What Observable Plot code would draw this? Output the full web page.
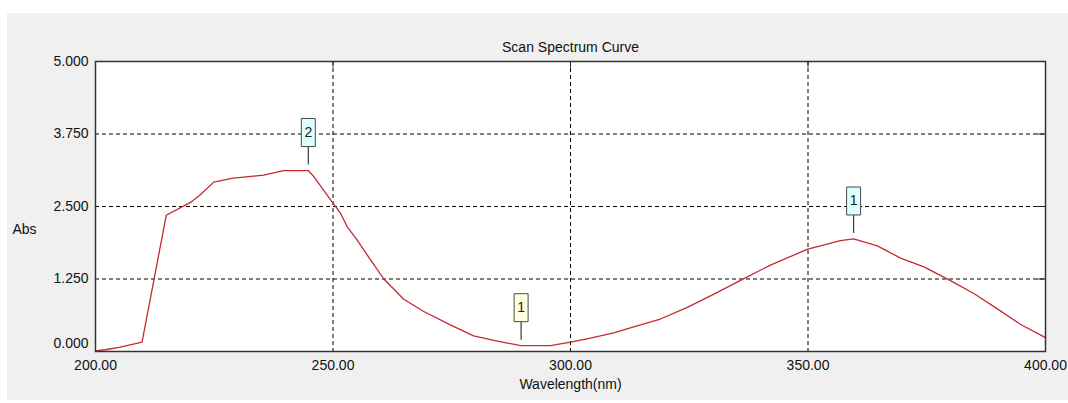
<!DOCTYPE html>
<html>
<head>
<meta charset="utf-8">
<script src="https://cdn.jsdelivr.net/npm/d3@7"></script>
<script src="https://cdn.jsdelivr.net/npm/@observablehq/plot@0.6"></script>
<style>
  html, body { margin: 0; padding: 0; background: white; }
  #wrap { position: relative; width: 1068px; height: 403px; background: white; overflow: hidden; }
  #panel { position: absolute; left: 7px; top: 13px; right: 0; bottom: 3px; background: #f0f0f0; }
  #chart { position: absolute; left: 0; top: 0; }
</style>
</head>
<body>
<div id="wrap"><div id="panel"></div><div id="chart"></div></div>
<script>
// Spectrum data
const wavelength = [200, 202, 205, 209.8, 214.9, 218.6, 220, 222, 224.9, 229, 235.4, 239.6, 244.8, 246, 249.8, 251.6, 253, 255.1, 257.9, 260.7, 264.9, 269.1, 274.7, 279.6, 284.6, 289.5, 295.8, 300, 304.2, 309.1, 314, 318.9, 324.6, 330.2, 336.1, 342.1, 349.8, 352.6, 356.8, 359.6, 364.6, 369.5, 374.4, 379.6, 384.9, 389.8, 394.7, 400];
const absorbance = [0.01, 0.03, 0.07, 0.16, 2.35, 2.51, 2.57, 2.70, 2.92, 2.99, 3.04, 3.12, 3.12, 3.01, 2.58, 2.38, 2.15, 1.92, 1.58, 1.25, 0.90, 0.69, 0.46, 0.27, 0.18, 0.10, 0.10, 0.16, 0.23, 0.32, 0.44, 0.56, 0.76, 0.99, 1.24, 1.49, 1.76, 1.82, 1.91, 1.94, 1.82, 1.61, 1.46, 1.24, 1.00, 0.74, 0.47, 0.24];

// Peak / valley markers
const markerWavelength = [244.8, 289.6, 359.6];
const markerAbs = [3.12, 0.10, 1.94];
const markerLabel = ["2", "1", "1"];
const markerKind = ["peak", "valley", "peak"];

// Axis ticks
const xTicks = [200, 250, 300, 350, 400];
const xTickLabels = ["200.00", "250.00", "300.00", "350.00", "400.00"];
const yTicks = [0, 1.25, 2.5, 3.75, 5];
const yTickLabels = ["0.000", "1.250", "2.500", "3.750", "5.000"];
const xGrid = [250, 300, 350];
const yGrid = [1.25, 2.5, 3.75];

const titleText = "Scan Spectrum Curve";
const xLabel = "Wavelength(nm)";
const yLabel = "Abs";

const curve = wavelength.map((w, i) => ({w, a: absorbance[i]}));
const markers = markerWavelength.map((w, i) => ({w, a: markerAbs[i], label: markerLabel[i], kind: markerKind[i]}));
const xt = xTicks.map((v, i) => ({v, t: xTickLabels[i]}));
const yt = yTicks.map((v, i) => ({v, t: yTickLabels[i]}));

const stemSymbol = {draw(ctx) { ctx.moveTo(0, -9); ctx.lineTo(0, 9); }};
const boxSymbol = {draw(ctx) { ctx.rect(-7, -14, 14, 28); }};
const hTick = {draw(ctx) { ctx.moveTo(-9, 0); ctx.lineTo(0, 0); }};
const vTick = {draw(ctx) { ctx.moveTo(0, 0); ctx.lineTo(0, 6); }};

const font = "'Liberation Sans', Arial, sans-serif";

const chart = Plot.plot({
  width: 1068,
  height: 403,
  marginLeft: 95,
  marginRight: 23,
  marginTop: 61,
  marginBottom: 52,
  style: {background: "transparent", fontFamily: font, fontSize: "14px", color: "black"},
  x: {domain: [200, 400], axis: null},
  y: {domain: [0, 5], axis: null},
  marks: [
    Plot.frame({fill: "white", stroke: null}),
    Plot.ruleX(xGrid, {stroke: "black", strokeDasharray: "4,3", strokeWidth: 1}),
    Plot.ruleY(yGrid, {stroke: "black", strokeDasharray: "4,3", strokeWidth: 1}),
    Plot.dot(yGrid, {y: d => d, frameAnchor: "right", symbol: hTick, stroke: "#222", fill: "none", strokeWidth: 1}),
    Plot.dot(xGrid, {x: d => d, frameAnchor: "top", symbol: vTick, stroke: "#222", fill: "none", strokeWidth: 1}),
    Plot.line(curve, {x: "w", y: "a", stroke: "#c42a30", strokeWidth: 1.3}),
    Plot.dot(markers, {x: "w", y: "a", symbol: stemSymbol, dy: -15, stroke: "#3a3a3a", fill: "none", strokeWidth: 1.2}),
    Plot.dot(markers.filter(d => d.kind === "peak"), {x: "w", y: "a", symbol: boxSymbol, dy: -38, stroke: "#4a4a4a", fill: "#dcffff", strokeWidth: 1}),
    Plot.dot(markers.filter(d => d.kind === "valley"), {x: "w", y: "a", symbol: boxSymbol, dy: -38, stroke: "#4a4a4a", fill: "#ffffe2", strokeWidth: 1}),
    Plot.text(markers, {x: "w", y: "a", text: "label", dy: -38, fontSize: 14, fill: "#222"}),
    Plot.frame({stroke: "#333", strokeWidth: 1.5}),
    Plot.text(yt.filter(d => d.v !== 0), {y: "v", text: "t", frameAnchor: "left", dx: -7, textAnchor: "end", fill: "#111"}),
    Plot.text(yt.filter(d => d.v === 0), {y: "v", text: "t", frameAnchor: "left", dx: -7, dy: -8, textAnchor: "end", fill: "#111"}),
    Plot.text(xt, {x: "v", text: "t", frameAnchor: "bottom", dy: 18, fill: "#111"}),
    Plot.text([titleText], {frameAnchor: "top", dy: -19, fill: "#111"}),
    Plot.text([xLabel], {frameAnchor: "bottom", dy: 37, fill: "#111"}),
    Plot.text([yLabel], {frameAnchor: "left", dx: -83, dy: 23, textAnchor: "start", fill: "#111"})
  ]
});
document.getElementById("chart").appendChild(chart);
</script>
</body>
</html>
